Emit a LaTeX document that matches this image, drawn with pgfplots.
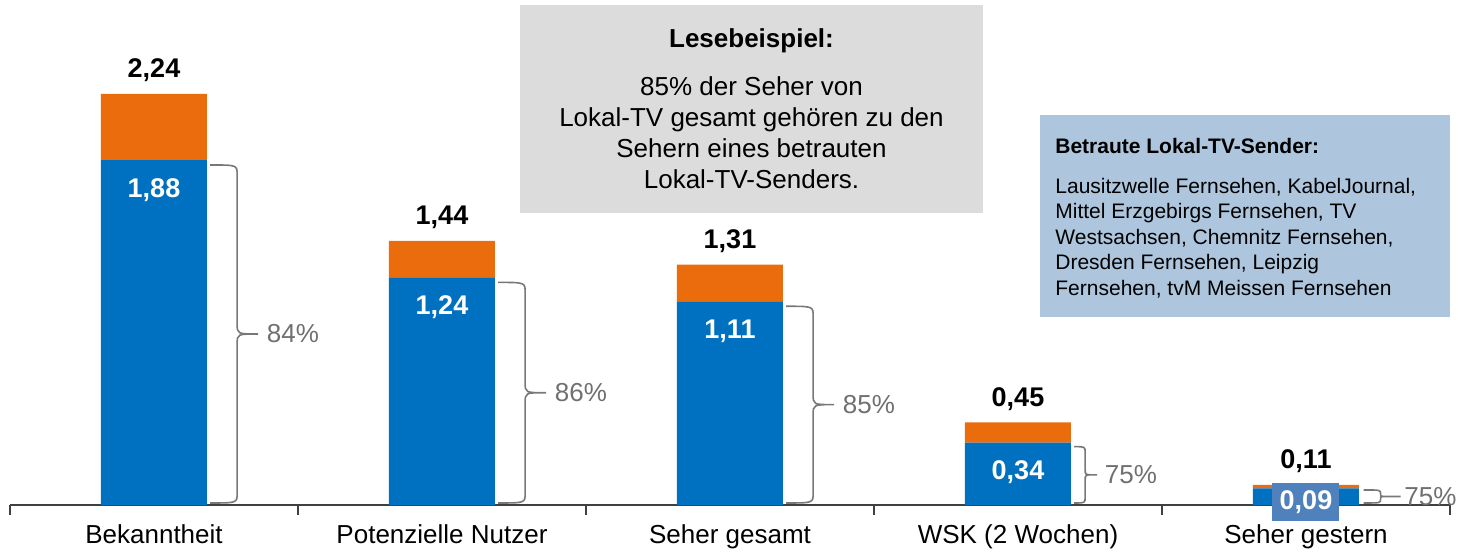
\documentclass[border=0pt]{standalone}
\usepackage{fontspec}
\setmainfont{Liberation Sans}
\usepackage{pgfplots}
\pgfplotsset{compat=1.18}
\usepackage{pgfplotstable}
\usetikzlibrary{calc}
\definecolor{barblue}{RGB}{0,112,192}
\definecolor{barorange}{RGB}{235,108,12}
\definecolor{boxgray}{RGB}{220,220,220}
\definecolor{infoblue}{RGB}{173,198,222}
\definecolor{lblblue}{RGB}{79,129,189}
\definecolor{pctgray}{RGB}{112,112,112}
\definecolor{bracegray}{RGB}{120,120,120}
\definecolor{axisgray}{RGB}{64,64,64}
\newcommand\pctfont{\fontsize{13}{15}\selectfont}
\newcommand\valfont{\fontsize{13.5}{15}\selectfont\bfseries}
\newcommand\mybrace[8]{%
 \draw[bracegray, line width=0.8pt] let \p1=(#1), \p2=(#2), \p3=($(#1)!0.5!(#2)$) in
 (\x1,\y1) .. controls (\x1+#3,\y1) .. (\x1+#3,\y1-#4)
 -- (\x1+#3,\y3+#4) .. controls (\x1+#3,\y3) .. (\x1+#3+#5,\y3)
 -- ++(#6,0) node[anchor=west, inner sep=0pt, xshift=#7, text=pctgray, font=\pctfont] {#8}
 (\x1+#3+#5,\y3) .. controls (\x1+#3,\y3) .. (\x1+#3,\y3-#4)
 -- (\x1+#3,\y2+#4) .. controls (\x1+#3,\y2) .. (\x1,\y2);
}
\pgfplotstableread{
x blue orange
0 1.88 0.36
1 1.24 0.20
2 1.11 0.20
3 0.34 0.11
4 0.09 0.02
}\data
\begin{document}
\begin{tikzpicture}
\useasboundingbox (-5pt,-24pt) rectangle (726.5pt,252.5pt);
\begin{axis}[
 at={(0,0)}, anchor=south west,
 scale only axis, width=720pt, height=252.5pt,
 xmin=-0.5, xmax=4.5, ymin=0, ymax=2.752,
 ybar stacked, bar width=53pt,
 axis x line*=bottom, axis y line=none,
 x axis line style={axisgray, line width=1pt},
 xtick={0,...,4},
 xticklabels={Bekanntheit, Potenzielle Nutzer, Seher gesamt, WSK (2 Wochen), Seher gestern},
 major tick length=0pt,
 minor xtick={-0.5,0.5,...,4.5},
 minor tick length=5pt,
 tick align=outside,
 minor tick style={axisgray, line width=1pt},
 xticklabel style={font=\fontsize{13}{15}\selectfont, anchor=base, yshift=-19pt},
 clip=false,
]
\addplot[fill=barblue, draw=none] table[x=x, y=blue] {\data};
\addplot[fill=barorange, draw=none] table[x=x, y=orange] {\data};
% label anchors
\coordinate (S0) at (axis cs:0,2.24); \coordinate (I0) at (axis cs:0,1.88);
\coordinate (S1) at (axis cs:1,1.44); \coordinate (I1) at (axis cs:1,1.24);
\coordinate (S2) at (axis cs:2,1.31); \coordinate (I2) at (axis cs:2,1.11);
\coordinate (S3) at (axis cs:3,0.45); \coordinate (I3) at (axis cs:3,0.34);
\coordinate (S4) at (axis cs:4,0.11); \coordinate (L4) at (axis cs:4,0.016);
% brace anchors
\coordinate (T0) at (axis cs:0.195,1.853); \coordinate (B0) at (axis cs:0.195,0.011);
\coordinate (T1) at (axis cs:1.195,1.213); \coordinate (B1) at (axis cs:1.195,0.011);
\coordinate (T2) at (axis cs:2.195,1.083); \coordinate (B2) at (axis cs:2.195,0.011);
\coordinate (T3) at (axis cs:3.195,0.318); \coordinate (B3) at (axis cs:3.195,0.011);
\coordinate (T4) at (axis cs:4.2,0.082); \coordinate (B4) at (axis cs:4.2,0.011);
\end{axis}
\begin{scope}[every node/.style={anchor=base, inner sep=0pt, font=\valfont}]
\node[yshift=8pt] at (S0) {2,24};
\node[yshift=8pt] at (S1) {1,44};
\node[yshift=8pt] at (S2) {1,31};
\node[yshift=8pt] at (S3) {0,45};
\node[yshift=8pt] at (S4) {0,11};
\node[yshift=-18.5pt, text=white] at (I0) {1,88};
\node[yshift=-18.5pt, text=white] at (I1) {1,24};
\node[yshift=-18.5pt, text=white] at (I2) {1,11};
\node[yshift=-18.5pt, text=white] at (I3) {0,34};
\end{scope}
\node[fill=lblblue, text=white, font=\valfont, minimum width=33.5pt, minimum height=19pt, inner sep=0pt] at (L4) {0,09};
\mybrace{T0}{B0}{13.5pt}{5pt}{10.5pt}{0pt}{4pt}{84\%}
\mybrace{T1}{B1}{13.5pt}{5pt}{10.5pt}{0pt}{4pt}{86\%}
\mybrace{T2}{B2}{13.5pt}{5pt}{10.5pt}{0pt}{4pt}{85\%}
\mybrace{T3}{B3}{5.5pt}{3pt}{4pt}{2pt}{3.5pt}{75\%}
\mybrace{T4}{B4}{8.5pt}{2pt}{1.5pt}{8.5pt}{1.5pt}{75\%}
% Lesebeispiel box
\fill[boxgray] (255pt,146pt) rectangle (486.5pt,250pt);
\begin{scope}[every node/.style={anchor=base, inner sep=0pt, font=\fontsize{13}{15}\selectfont}]
\node[font=\fontsize{13}{15}\selectfont\bfseries] at (370.75pt,229pt) {Lesebeispiel:};
\node at (370.75pt,205pt) {85\% der Seher von};
\node at (370.75pt,189.5pt) {Lokal-TV gesamt gehören zu den};
\node at (370.75pt,174pt) {Sehern eines betrauten};
\node at (370.75pt,158.5pt) {Lokal-TV-Senders.};
\end{scope}
% info box
\fill[infoblue] (515pt,94pt) rectangle (720pt,195pt);
\begin{scope}[every node/.style={anchor=base west, inner sep=0pt, font=\fontsize{10.5}{12}\selectfont}]
\node[font=\fontsize{10.5}{12}\selectfont\bfseries] at (522.5pt,176pt) {Betraute Lokal-TV-Sender:};
\node at (522.5pt,156pt) {Lausitzwelle Fernsehen, KabelJournal,};
\node at (522.5pt,143.25pt) {Mittel Erzgebirgs Fernsehen, TV};
\node at (522.5pt,130.5pt) {Westsachsen, Chemnitz Fernsehen,};
\node at (522.5pt,117.75pt) {Dresden Fernsehen, Leipzig};
\node at (522.5pt,105pt) {Fernsehen, tvM Meissen Fernsehen};
\end{scope}
\end{tikzpicture}
\end{document}
